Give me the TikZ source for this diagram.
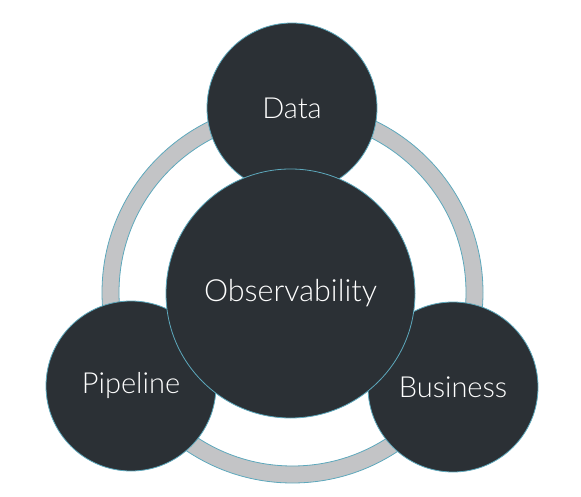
\documentclass[tikz,border=0pt]{standalone}
\usepackage{fontspec}
\setmainfont{Lato Light}
\definecolor{disc}{HTML}{2B3035}
\definecolor{rim}{HTML}{5DA8BC}
\definecolor{ringgray}{HTML}{C3C4C6}
\tikzset{
  bubble/.style={circle, fill=disc, draw=rim, line width=0.8pt, inner sep=0pt, text=white, font=\fontsize{29}{31}\selectfont},
}
\begin{document}
\begin{tikzpicture}[x=1pt,y=-1pt]
\useasboundingbox (0,0) rectangle (581,497);
% ring
\coordinate (rc) at (292.5,292.5);
\fill[ringgray, even odd rule] (rc) circle (190.5) (rc) circle (173.5);
\draw[rim, line width=0.8pt] (rc) circle (190.5);
\draw[rim, line width=0.8pt] (rc) circle (173.5);
% satellites
\node[bubble, minimum size=170] (data) at (292,108) {Data};
\node[bubble, minimum size=170] (pipe) at (131,386) {Pipeline};
\node[bubble, minimum size=170] (bus) at (453,387) {Business};
% centre
\node[bubble, minimum size=249, font=\fontsize{30.5}{32}\selectfont] (obs) at (290.5,293.5) {Observability};
\end{tikzpicture}
\end{document}
